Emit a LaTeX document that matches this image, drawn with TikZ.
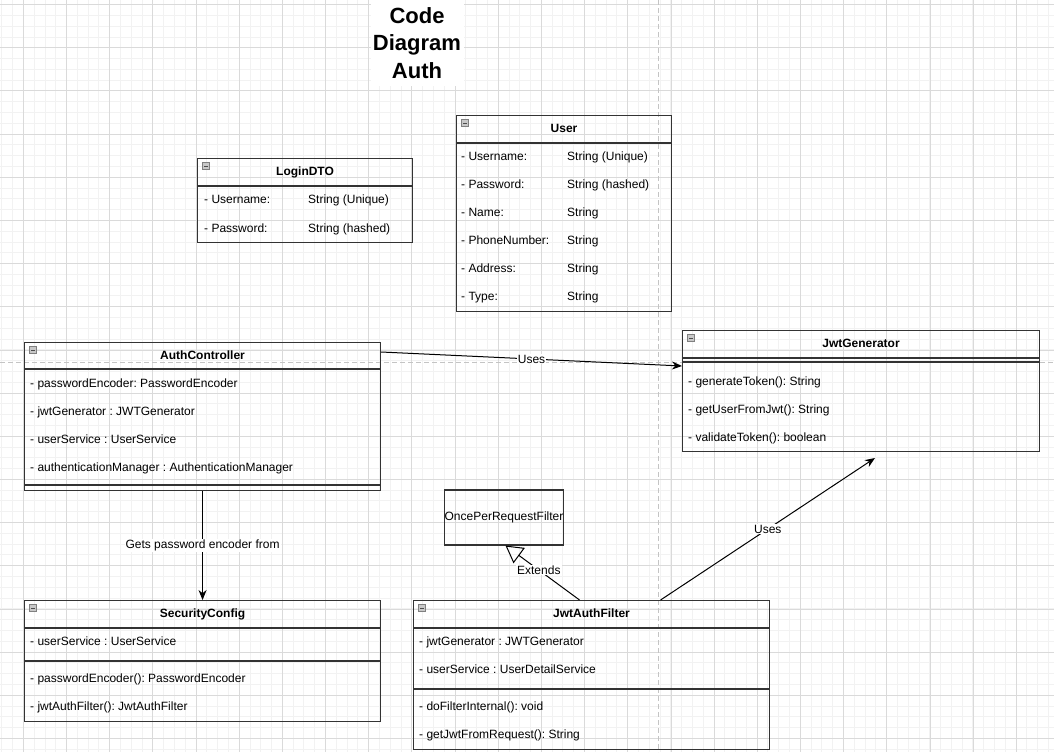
\documentclass[tikz,border=0pt]{standalone}
\usepackage{fontspec}
\setmainfont{Liberation Sans}
\usetikzlibrary{arrows.meta,positioning}
\definecolor{gridminor}{HTML}{F2F2F2}
\definecolor{gridmajor}{HTML}{DADADA}
\definecolor{pagebreak}{HTML}{C4C4C4}
\definecolor{boxline}{HTML}{333333}
\definecolor{iconfill}{HTML}{C8C8C8}
\frenchspacing
\begin{document}
\begin{tikzpicture}[x=1pt,y=-1pt,
    classbox/.style={draw=boxline,line width=1.1pt,anchor=north west,inner sep=0pt},
    classline/.style={draw=boxline,line width=1.1pt},
    classtitle/.style={font=\fontsize{12}{15}\selectfont\bfseries,inner sep=0pt,text height=8.6pt,text depth=0pt},
    member/.style={font=\fontsize{12}{15}\selectfont,anchor=west,inner sep=0pt,text height=8.6pt,text depth=0pt},
    collapse/.style={draw=gray,fill=iconfill,minimum size=7pt,inner sep=0pt,line width=0.5pt,
      path picture={\draw[black!70,line width=0.8pt] ([xshift=1.5pt]path picture bounding box.west) -- ([xshift=-1.5pt]path picture bounding box.east);}},
    link/.style={draw=black,line width=1pt},
    usesarrow/.style={link,-{Stealth[length=10pt,width=8pt]}},
    extendsarrow/.style={link,-{Triangle[open,length=17pt,width=19pt]}},
    linklabel/.style={font=\fontsize{12}{15}\selectfont,fill=white,inner sep=1pt}]
  \useasboundingbox (0,0) rectangle (1054,752);
  \fill[white] (0,0) rectangle (1054,752);
  \foreach \gx in {1.72,12.51,...,1054} \draw[gridminor,line width=0.7pt] (\gx,0) -- (\gx,752);
  \foreach \gy in {4.5,15.29,...,752} \draw[gridminor,line width=0.7pt] (0,\gy) -- (1054,\gy);
  \foreach \gx in {23.3,66.47,...,1054} \draw[gridmajor,line width=0.7pt] (\gx,0) -- (\gx,752);
  \foreach \gy in {4.5,47.67,...,752} \draw[gridmajor,line width=0.7pt] (0,\gy) -- (1054,\gy);
  \draw[pagebreak,line width=1pt,dash pattern=on 5pt off 3pt] (658,0) -- (658,752);
  \draw[pagebreak,line width=1pt,dash pattern=on 5pt off 3pt] (0,362) -- (1054,362);

  \node[fill=white,minimum width=93pt,minimum height=85pt,inner sep=0pt,align=center,
    font=\fontsize{22}{27.5}\selectfont\bfseries] (title) at (417,43) {Code\\Diagram\\Auth};

  \node[classbox,minimum width=215pt,minimum height=84pt] (logindto) at (197,158) {};
  \node[collapse] (logindto-icon) at ([shift={(9pt,-8pt)}]logindto.north west) {};
  \node[classtitle] (logindto-title) at ([yshift=-13pt]logindto.north) {LoginDTO};
  \draw[classline] ([yshift=-28pt]logindto.north west) -- ([yshift=-28pt]logindto.north east);
  \node[member] (logindto-n1) at (204,199) {- Username:};
  \node[member] (logindto-t1) at (308,199) {String (Unique)};
  \node[member] (logindto-n2) at (204,228) {- Password:};
  \node[member] (logindto-t2) at (308,228) {String (hashed)};

  \node[classbox,minimum width=215pt,minimum height=196pt] (user) at (456,115) {};
  \node[collapse] (user-icon) at ([shift={(9pt,-8pt)}]user.north west) {};
  \node[classtitle] (user-title) at ([yshift=-13pt]user.north) {User};
  \draw[classline] ([yshift=-28pt]user.north west) -- ([yshift=-28pt]user.north east);
  \foreach \name/\type [count=\i] in {Username/String (Unique),Password/String (hashed),
      Name/String,PhoneNumber/String,Address/String,Type/String} {
    \node[member] (user-n\i) at (461,{128.3+28*\i}) {- \name:};
    \node[member] (user-t\i) at (567,{128.3+28*\i}) {\type};
  }

  \node[classbox,minimum width=356pt,minimum height=148pt] (authcontroller) at (24,342) {};
  \node[collapse] (authcontroller-icon) at ([shift={(9pt,-8pt)}]authcontroller.north west) {};
  \node[classtitle] (authcontroller-title) at ([yshift=-13pt]authcontroller.north) {AuthController};
  \draw[classline] ([yshift=-27pt]authcontroller.north west) -- ([yshift=-27pt]authcontroller.north east);
  \draw[classline] ([yshift=-143pt]authcontroller.north west) -- ([yshift=-143pt]authcontroller.north east);
  \node[member] (authcontroller-a1) at (30,382.7) {- passwordEncoder: PasswordEncoder};
  \node[member] (authcontroller-a2) at (30,410.7) {- jwtGenerator : JWTGenerator};
  \node[member] (authcontroller-a3) at (30,438.7) {- userService : UserService};
  \node[member] (authcontroller-a4) at (30,466.7) {- authenticationManager : AuthenticationManager};

  \node[classbox,minimum width=357pt,minimum height=121pt] (jwtgenerator) at (682,330) {};
  \node[collapse] (jwtgenerator-icon) at ([shift={(9pt,-8pt)}]jwtgenerator.north west) {};
  \node[classtitle] (jwtgenerator-title) at ([yshift=-13pt]jwtgenerator.north) {JwtGenerator};
  \draw[classline] ([yshift=-28pt]jwtgenerator.north west) -- ([yshift=-28pt]jwtgenerator.north east);
  \draw[classline] ([yshift=-32pt]jwtgenerator.north west) -- ([yshift=-32pt]jwtgenerator.north east);
  \node[member] (jwtgenerator-m1) at (688,381) {- generateToken(): String};
  \node[member] (jwtgenerator-m2) at (688,409) {- getUserFromJwt(): String};
  \node[member] (jwtgenerator-m3) at (688,437) {- validateToken(): boolean};

  \node[classbox,minimum width=356pt,minimum height=121pt] (securityconfig) at (24,600) {};
  \node[collapse] (securityconfig-icon) at ([shift={(9pt,-8pt)}]securityconfig.north west) {};
  \node[classtitle] (securityconfig-title) at ([yshift=-13pt]securityconfig.north) {SecurityConfig};
  \draw[classline] ([yshift=-28pt]securityconfig.north west) -- ([yshift=-28pt]securityconfig.north east);
  \draw[classline] ([yshift=-61pt]securityconfig.north west) -- ([yshift=-61pt]securityconfig.north east);
  \node[member] (securityconfig-a1) at (30,641.5) {- userService : UserService};
  \node[member] (securityconfig-m1) at (30,678.5) {- passwordEncoder(): PasswordEncoder};
  \node[member] (securityconfig-m2) at (30,706.5) {- jwtAuthFilter(): JwtAuthFilter};

  \node[classbox,minimum width=356pt,minimum height=149pt] (jwtauthfilter) at (413,600) {};
  \node[collapse] (jwtauthfilter-icon) at ([shift={(9pt,-8pt)}]jwtauthfilter.north west) {};
  \node[classtitle] (jwtauthfilter-title) at ([yshift=-13pt]jwtauthfilter.north) {JwtAuthFilter};
  \draw[classline] ([yshift=-28pt]jwtauthfilter.north west) -- ([yshift=-28pt]jwtauthfilter.north east);
  \draw[classline] ([yshift=-89pt]jwtauthfilter.north west) -- ([yshift=-89pt]jwtauthfilter.north east);
  \node[member] (jwtauthfilter-a1) at (419,641.5) {- jwtGenerator : JWTGenerator};
  \node[member] (jwtauthfilter-a2) at (419,669.5) {- userService : UserDetailService};
  \node[member] (jwtauthfilter-m1) at (419,706.5) {- doFilterInternal(): void};
  \node[member] (jwtauthfilter-m2) at (419,734.5) {- getJwtFromRequest(): String};

  \node[draw=boxline,line width=1.1pt,minimum width=118pt,minimum height=55pt,inner sep=0pt,
    font=\fontsize{12}{15}\selectfont] (onceper) at (504,517.5) {OncePerRequestFilter};

  \coordinate (usesend) at (875,458);
  \draw[usesarrow] ([yshift=-10pt]authcontroller.north east) -- node[linklabel] (uses1) {Uses} ([yshift=-36pt]jwtgenerator.north west);
  \draw[usesarrow] (authcontroller.south) -- node[linklabel] (gets) {Gets password encoder from} (securityconfig.north);
  \draw[extendsarrow] ([xshift=-12pt]jwtauthfilter.north) -- node[linklabel,pos=0.55] (extends) {Extends} ([xshift=1.5pt]onceper.south);
  \draw[usesarrow] ([xshift=69pt]jwtauthfilter.north) -- node[linklabel] (uses2) {Uses} (usesend);
\end{tikzpicture}
\end{document}
